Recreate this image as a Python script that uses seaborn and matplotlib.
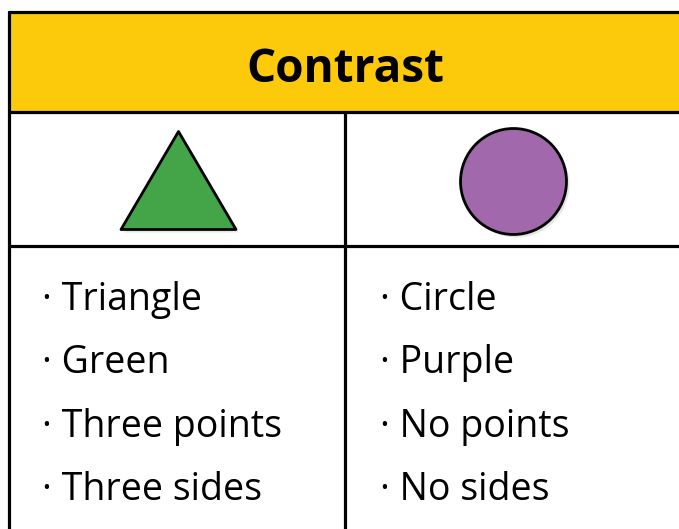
import matplotlib
matplotlib.use("Agg")
import matplotlib.pyplot as plt
import seaborn as sns
import pandas as pd
import numpy as np
from matplotlib.markers import MarkerStyle
from matplotlib.path import Path

# Data
title = "Contrast"
left_items = ["Triangle", "Green", "Three points", "Three sides"]
right_items = ["Circle", "Purple", "No points", "No sides"]
shape_names = ["triangle", "circle"]
shape_colors = ["#43A548", "#A169AB"]

sns.set_theme(style="white")
plt.rcParams["font.family"] = ["Open Sans", "DejaVu Sans"]

fig = plt.figure(figsize=(6.79, 5.29), dpi=100)
ax = fig.add_axes([0, 0, 1, 1])
ax.set_xlim(0, 679)
ax.set_ylim(529, 0)
ax.axis("off")

# table frame
ax.add_patch(plt.Rectangle((9, 12), 680, 100, facecolor="#FCCA0A", edgecolor="none", zorder=1))
lw = 2.3
ax.plot([9, 679], [12, 12], color="black", lw=lw, zorder=3)
ax.plot([9, 9], [12, 529], color="black", lw=lw, zorder=3)
ax.plot([9, 679], [112, 112], color="black", lw=lw, zorder=3)
ax.plot([9, 679], [246, 246], color="black", lw=lw, zorder=3)
ax.plot([345, 345], [112, 529], color="black", lw=lw, zorder=3)

ax.text(345, 82, title, ha="center", va="baseline", fontsize=33, fontweight="bold", color="black", zorder=4)

# shapes
tri = MarkerStyle(Path([(-1, -0.852), (1, -0.852), (0, 0.852), (-1, -0.852)],
                       [Path.MOVETO, Path.LINETO, Path.LINETO, Path.CLOSEPOLY]))
shapes = pd.DataFrame({"x": [178, 513], "y": [180, 181], "shape": shape_names})
sizes = {"triangle": 6856, "circle": 5822}
markers = {"triangle": tri, "circle": "o"}

for i, row in shapes.iterrows():
    # soft shadow
    sns.scatterplot(x=[row["x"] + 3], y=[row["y"] + 3], marker=markers[row["shape"]],
                    s=sizes[row["shape"]], color="#bbbbbb", alpha=0.35, linewidth=0, ax=ax, zorder=4)
    sns.scatterplot(x=[row["x"]], y=[row["y"]], marker=markers[row["shape"]],
                    s=sizes[row["shape"]], color=shape_colors[i], edgecolor="black",
                    linewidth=2, ax=ax, zorder=5)

# bullet lists
baselines = [310, 373, 437, 500]
for i, y in enumerate(baselines):
    ax.text(42, y, "· " + left_items[i], ha="left", va="baseline", fontsize=27, color="black")
    ax.text(380, y, "· " + right_items[i], ha="left", va="baseline", fontsize=27, color="black")

fig.savefig("out.png", dpi=100)
